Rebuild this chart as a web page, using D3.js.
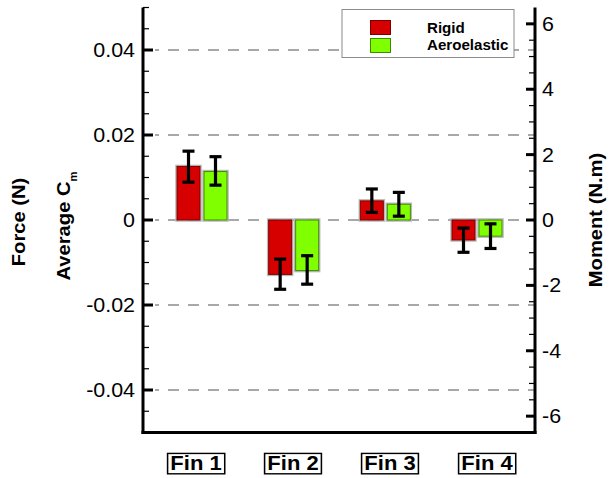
<!DOCTYPE html>
<html><head><meta charset="utf-8">
<script src="https://cdn.jsdelivr.net/npm/d3@7"></script>
<style>html,body{margin:0;padding:0;background:#fff;}svg{display:block;}</style>
</head><body>
<script>
const categories = ["Fin 1", "Fin 2", "Fin 3", "Fin 4"];
const seriesNames = ["Rigid", "Aeroelastic"];
const rigid = [0.0126, -0.0128, 0.0045, -0.0047];
const aero = [0.0114, -0.0119, 0.0037, -0.0038];
const rigidLow = [0.0089, -0.0163, 0.0018, -0.0076];
const rigidHigh = [0.0162, -0.0092, 0.0073, -0.0019];
const aeroLow = [0.0082, -0.0151, 0.0009, -0.0067];
const aeroHigh = [0.0149, -0.0084, 0.0065, -0.0009];
const leftTicks = [-0.04, -0.02, 0, 0.02, 0.04];
const leftTickLabels = ["-0.04", "-0.02", "0", "0.02", "0.04"];
const rightTicks = [-6, -4, -2, 0, 2, 4, 6];
const rightTickLabels = ["-6", "-4", "-2", "0", "2", "4", "6"];
const gridValues = [-0.04, -0.02, 0, 0.02, 0.04];

const W = 614, H = 478;
const X0 = 143, X1 = 535, YT = 7.5, YB = 432.5;
const SX = 1.12;
const FONT = "'Liberation Sans', Arial, Helvetica, sans-serif";

const svg = d3.select("body").append("svg").attr("width", W).attr("height", H);

const y = d3.scaleLinear().domain([-0.05, 0.05]).range([YB, YT]);
const yR = d3.scaleLinear().domain([-6.5, 6.5]).range([YB, YT]);
const x = d3.scalePoint().domain(categories).range([202, 477]);
const xLab = d3.scalePoint().domain(categories).range([196, 487]);
const off = d3.scalePoint().domain(seriesNames).range([-13.5, 13.5]);
const barW = 23;
const colors = {Rigid: "#d60000", Aeroelastic: "#80ff00"};
const borders = {Rigid: "#7a0000", Aeroelastic: "#3f8a00"};

function txt(parent, tx, ty, s, o) {
  const g = parent.append("g").attr("transform",
    `translate(${tx},${ty})` + (o.rot ? ` rotate(${o.rot})` : "") + ` scale(${o.sx || SX},1)`);
  const t = g.append("text").attr("x", 0).attr("y", 0)
    .attr("font-family", FONT).attr("font-size", o.size)
    .attr("font-weight", o.weight || "normal")
    .attr("text-anchor", o.anchor || "start")
    .attr("fill", "#000");
  if (o.dy) t.attr("dy", o.dy);
  t.text(s);
  return {g, t};
}

// grid lines
svg.append("g").selectAll("line").data(gridValues).join("line")
  .attr("x1", 155).attr("x2", X1)
  .attr("y1", d => y(d)).attr("y2", d => y(d))
  .attr("stroke", "#8c8c8c").attr("stroke-width", 1.3)
  .attr("stroke-dasharray", "11,9").attr("stroke-dashoffset", -13);

// bars
const rows = [];
categories.forEach((c, i) => {
  rows.push({c, s: "Rigid", v: rigid[i], lo: rigidLow[i], hi: rigidHigh[i]});
  rows.push({c, s: "Aeroelastic", v: aero[i], lo: aeroLow[i], hi: aeroHigh[i]});
});
const bx = d => x(d.c) + off(d.s) - barW / 2;
const by = d => Math.min(y(d.v), y(0));
const bh = d => Math.abs(y(d.v) - y(0));
svg.append("g").selectAll("rect").data(rows).join("rect")
  .attr("x", d => bx(d) - 1).attr("y", d => by(d) - 1)
  .attr("width", barW + 2).attr("height", d => bh(d) + 2)
  .attr("fill", "none").attr("stroke", "#b8b8b8").attr("stroke-width", 1.5);
svg.append("g").selectAll("rect").data(rows).join("rect")
  .attr("x", bx).attr("y", by).attr("width", barW).attr("height", bh)
  .attr("fill", d => colors[d.s]).attr("stroke", d => borders[d.s]).attr("stroke-width", 1);

// error bars
const eb = svg.append("g").attr("stroke", "#000").attr("stroke-width", 3.2);
rows.forEach(d => {
  const cx = x(d.c) + off(d.s);
  eb.append("line").attr("x1", cx).attr("x2", cx).attr("y1", y(d.lo)).attr("y2", y(d.hi));
  eb.append("line").attr("x1", cx - 6).attr("x2", cx + 6).attr("y1", y(d.lo)).attr("y2", y(d.lo));
  eb.append("line").attr("x1", cx - 6).attr("x2", cx + 6).attr("y1", y(d.hi)).attr("y2", y(d.hi));
});

// axes
const axisG = svg.append("g").attr("stroke", "#000");
const leftMinor = d3.range(-0.045, 0.0501, 0.005).map(v => +v.toFixed(4)).filter(v => !leftTicks.some(t => Math.abs(t - v) < 1e-6));
axisG.selectAll(".lmaj").data(leftTicks).join("line").attr("class", "lmaj")
  .attr("x1", X0).attr("x2", X0 + 10).attr("y1", d => y(d)).attr("y2", d => y(d)).attr("stroke-width", 3);
axisG.selectAll(".lmin").data(leftMinor).join("line").attr("class", "lmin")
  .attr("x1", X0).attr("x2", X0 + 6).attr("y1", d => y(d)).attr("y2", d => y(d)).attr("stroke-width", 1.2);
const rightMinor = d3.range(-6.5, 6.51, 0.5).map(v => +v.toFixed(2)).filter(v => !rightTicks.includes(v) && Math.abs(v) < 6.5);
axisG.selectAll(".rmaj").data(rightTicks).join("line").attr("class", "rmaj")
  .attr("x1", X1 - 9).attr("x2", X1).attr("y1", d => yR(d)).attr("y2", d => yR(d)).attr("stroke-width", 3);
axisG.selectAll(".rmin").data(rightMinor).join("line").attr("class", "rmin")
  .attr("x1", X1 - 6).attr("x2", X1).attr("y1", d => yR(d)).attr("y2", d => yR(d)).attr("stroke-width", 1.2);
axisG.append("line").attr("x1", X0).attr("x2", X0).attr("y1", YT).attr("y2", YB + 1.5).attr("stroke-width", 3);
axisG.append("line").attr("x1", X1).attr("x2", X1).attr("y1", YT).attr("y2", YB + 1.5).attr("stroke-width", 3);
axisG.append("line").attr("x1", X0 - 1.5).attr("x2", X1 + 1.5).attr("y1", YB).attr("y2", YB).attr("stroke-width", 3);

// tick labels
leftTicks.forEach((v, i) => txt(svg, 135, y(v) + 7, leftTickLabels[i], {size: 19.5, anchor: "end", sx: 1.1}));
rightTicks.forEach((v, i) => txt(svg, 542, yR(v) + 7, rightTickLabels[i], {size: 19.5, anchor: "start", sx: 1.1}));

// axis titles
txt(svg, 25, 222, "Force (N)", {size: 18, weight: "bold", anchor: "middle", rot: -90});
{
  const g = svg.append("g").attr("transform", "translate(70,226) rotate(-90) scale(1.12,1)");
  const t = g.append("text").attr("font-family", FONT).attr("font-size", 18).attr("font-weight", "bold")
    .attr("text-anchor", "middle");
  t.append("tspan").text("Average C");
  t.append("tspan").attr("font-size", 10).attr("dy", 7).text("m");
}
txt(svg, 602, 220, "Moment (N.m)", {size: 18, weight: "bold", anchor: "middle", rot: -90});

// category labels with boxes
categories.forEach(c => {
  const r = txt(svg, xLab(c), 470, c, {size: 20, weight: "bold", anchor: "middle", sx: 1.1});
  const bb = r.t.node().getBBox();
  r.g.insert("rect", "text").attr("x", bb.x - 2.5).attr("y", bb.y + 1.5).attr("width", bb.width + 5)
    .attr("height", bb.height - 1.5).attr("fill", "#fff").attr("stroke", "#000").attr("stroke-width", 1.4);
});

// legend
const lg = svg.append("g");
lg.append("rect").attr("x", 342).attr("y", 9.5).attr("width", 172).attr("height", 48)
  .attr("fill", "#fff").attr("stroke", "#8a8a8a").attr("stroke-width", 1);
seriesNames.forEach((s, i) => {
  lg.append("rect").attr("x", 370.5).attr("y", 20.5 + i * 18).attr("width", 20).attr("height", 14)
    .attr("fill", colors[s]).attr("stroke", borders[s]).attr("stroke-width", 1);
  txt(lg, 427, 32.5 + i * 17, s, {size: 14, weight: "bold", anchor: "start", sx: 1.08});
});
</script>
</body></html>
